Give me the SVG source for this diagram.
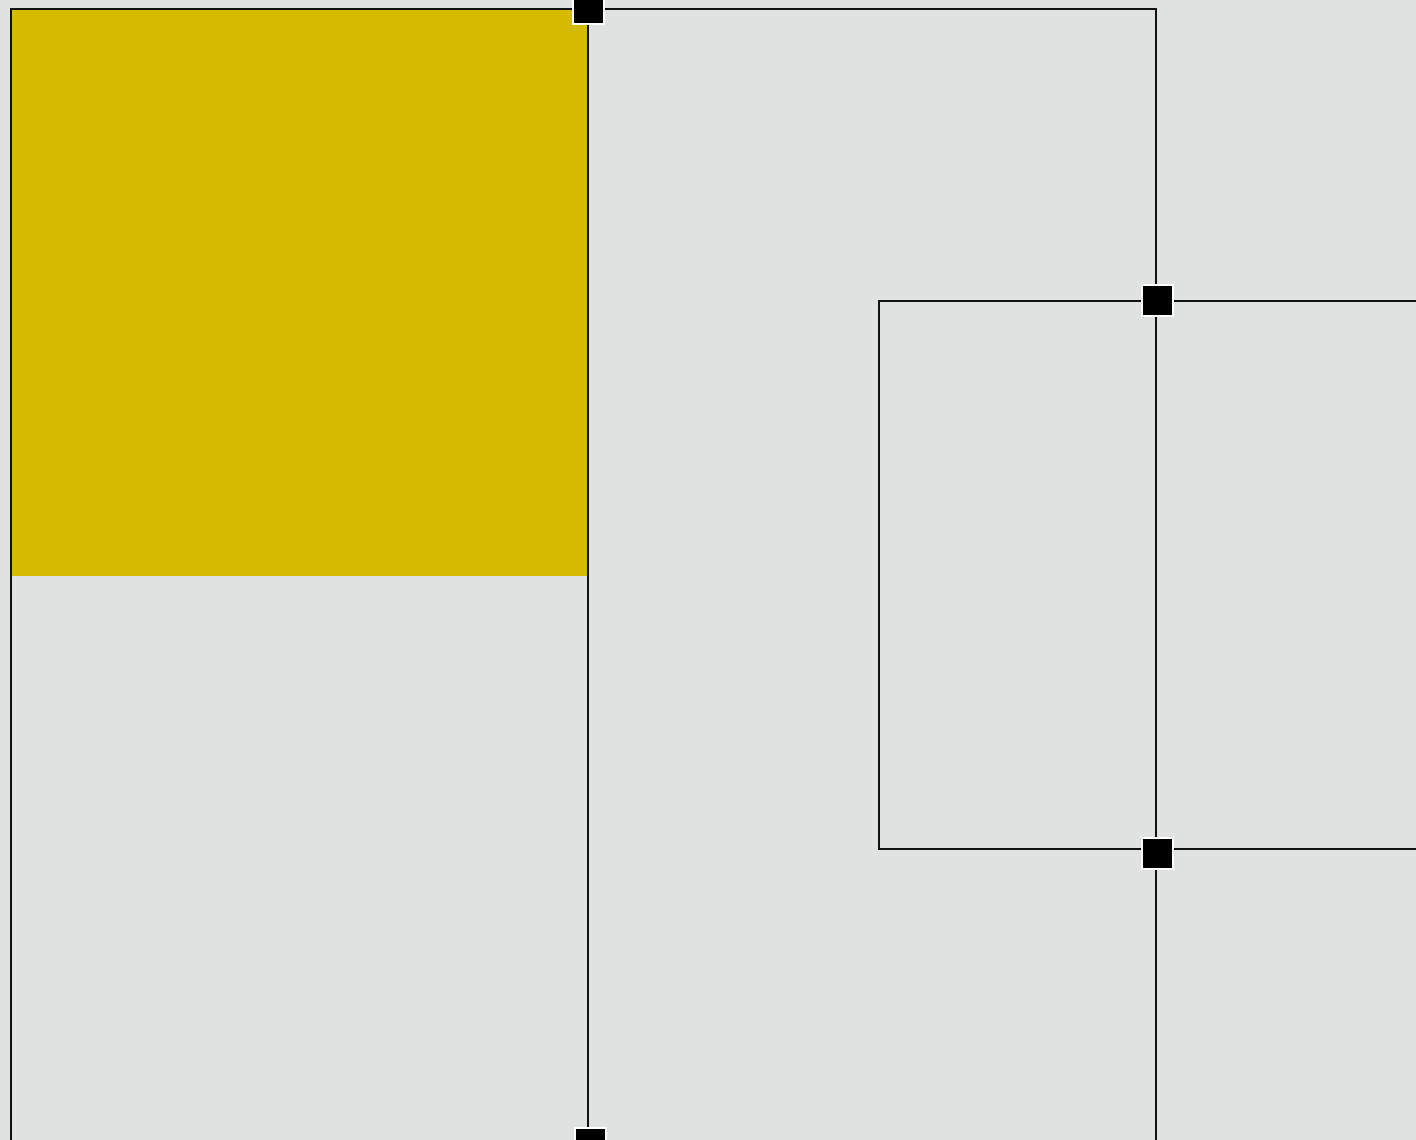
<svg xmlns="http://www.w3.org/2000/svg" width="1416" height="1140" viewBox="0 0 1416 1140">
<style>
.ln{fill:none;stroke:#111;stroke-width:2}
.sq{fill:#000;stroke:#fff;stroke-width:2}
</style>
<rect x="0" y="0" width="1416" height="1140" fill="#e0e2e1"/>
<rect x="12" y="10" width="576" height="566" fill="#d4bb00"/>
<g id="lines">
<path class="ln" d="M11,1140 V9 H1156 V1140"/>
<path class="ln" d="M588,9 V1130"/>
<path class="ln" d="M1416,301 H879 V849 H1416"/>
</g>
<g id="joints">
<rect class="sq" x="573" y="-7" width="31" height="31"/>
<rect class="sq" x="1142" y="285" width="31" height="31"/>
<rect class="sq" x="1142" y="838" width="31" height="31"/>
<rect class="sq" x="575" y="1128" width="31" height="31"/>
</g>
</svg>
